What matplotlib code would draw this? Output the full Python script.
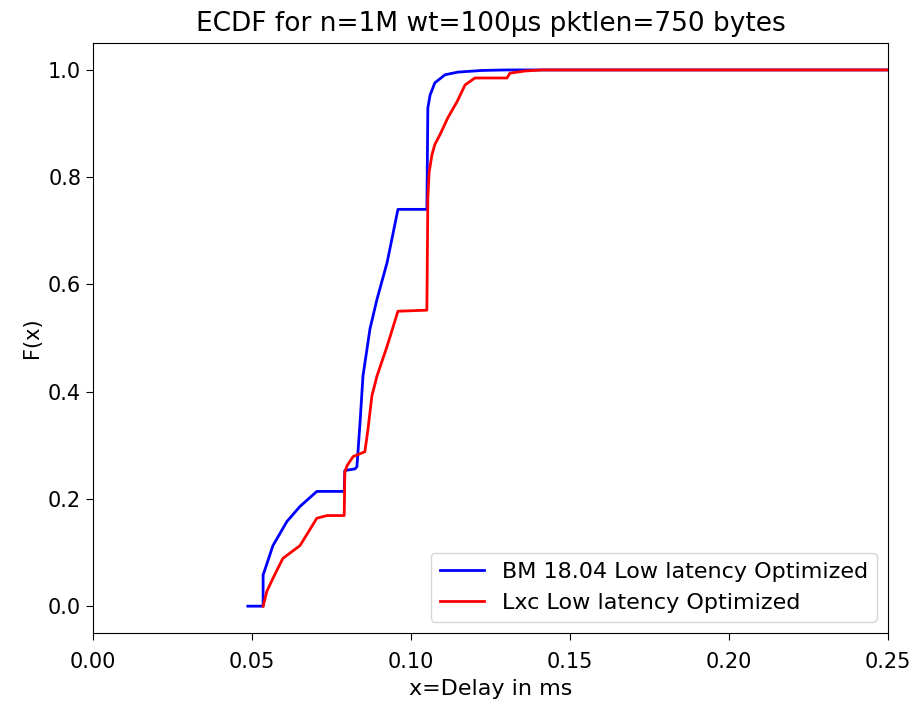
import matplotlib
matplotlib.use("Agg")
import matplotlib.pyplot as plt

# ECDF points (delay in ms, F(x))
bm_x = [0.0487, 0.0535, 0.0535, 0.0566, 0.0610, 0.0651, 0.0704, 0.0790, 0.0792, 0.0824,
        0.0830, 0.0840, 0.0849, 0.0871, 0.0893, 0.0925, 0.0959, 0.1050, 0.1053, 0.1060,
        0.1075, 0.1107, 0.1148, 0.1223, 0.1300, 0.25]
bm_y = [0.0, 0.0, 0.058, 0.113, 0.158, 0.186, 0.214, 0.214, 0.253, 0.256,
        0.260, 0.344, 0.429, 0.517, 0.572, 0.641, 0.740, 0.740, 0.929, 0.953,
        0.976, 0.991, 0.996, 0.999, 1.0, 1.0]

lxc_x = [0.0535, 0.0547, 0.0566, 0.0597, 0.0651, 0.0704, 0.0736, 0.0790, 0.0792, 0.0799,
         0.0818, 0.0855, 0.0865, 0.0877, 0.0893, 0.0925, 0.0959, 0.1050, 0.1053, 0.1057,
         0.1066, 0.1075, 0.1091, 0.1116, 0.1145, 0.1170, 0.1201, 0.1302, 0.1311, 0.1358,
         0.1412, 0.25]
lxc_y = [0.0, 0.028, 0.052, 0.089, 0.113, 0.164, 0.169, 0.169, 0.250, 0.262,
         0.279, 0.288, 0.331, 0.392, 0.429, 0.485, 0.550, 0.552, 0.760, 0.809,
         0.842, 0.861, 0.879, 0.911, 0.941, 0.972, 0.985, 0.985, 0.994, 0.998,
         1.0, 1.0]

labels = ["BM 18.04 Low latency Optimized", "Lxc Low latency Optimized"]

fig = plt.figure(figsize=(9.15, 7.07), dpi=100)
ax = fig.add_axes([0.1016, 0.1047, 0.8689, 0.8343])

ax.plot(bm_x, bm_y, color="blue", lw=2, label=labels[0])
ax.plot(lxc_x, lxc_y, color="red", lw=2, label=labels[1])

ax.set_xlim(0, 0.25)
ax.set_ylim(-0.05, 1.05)
ax.set_title("ECDF for n=1M wt=100μs pktlen=750 bytes", fontsize=19, pad=9)
ax.set_xlabel("x=Delay in ms", fontsize=16, labelpad=5)
ax.set_ylabel("F(x)", fontsize=15)
ax.tick_params(labelsize=15, length=5)
ax.tick_params(axis="x", pad=9)
ax.legend(loc="lower right", fontsize=16)

fig.savefig("out.png", dpi=100)
